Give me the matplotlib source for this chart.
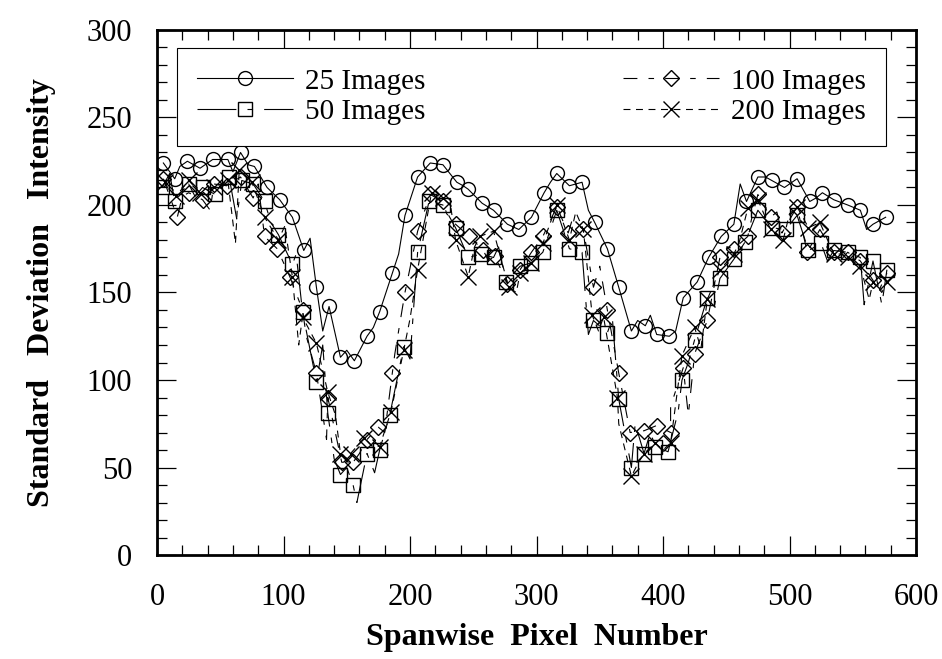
import matplotlib
matplotlib.use("Agg")
import matplotlib.pyplot as plt
from matplotlib.lines import Line2D
from matplotlib.ticker import MultipleLocator

plt.rcParams['font.family'] = ['Liberation Serif', 'DejaVu Serif']
plt.rcParams['lines.scale_dashes'] = False

# marker points (pixel number, std dev)
x25 = [5, 14, 24, 34, 44, 56, 66, 77, 87, 97, 107, 116, 126, 136, 145, 156, 166, 176, 186, 196,
       206, 216, 226, 237, 246, 257, 266, 277, 286, 296, 306, 316, 326, 336, 346, 356, 365, 375, 386, 395,
       405, 416, 427, 436, 446, 456, 466, 475, 486, 496, 506, 516, 526, 535, 546, 556, 566, 576]
y25 = [224, 215, 225, 221, 226, 226, 230, 222, 210, 203, 193, 174, 153, 142, 113, 111, 125, 139, 161, 194,
       216, 224, 223, 213, 209, 201, 197, 189, 186, 193, 207, 218, 211, 213, 190, 175, 153, 128, 131, 126,
       125, 147, 156, 170, 182, 189, 202, 216, 214, 210, 215, 202, 207, 203, 200, 197, 189, 193]

x50 = [4, 14, 25, 36, 46, 57, 67, 76, 85, 96, 107, 115, 126, 135, 145, 155, 166, 176, 184, 195,
       206, 215, 226, 236, 246, 256, 266, 276, 287, 296, 305, 316, 326, 336, 345, 356, 365, 375, 385, 394,
       404, 415, 425, 435, 445, 456, 465, 475, 486, 497, 506, 515, 525, 535, 546, 556, 566, 577]
y50 = [210, 202, 212, 210, 206, 216, 214, 212, 202, 183, 166, 139, 99, 81, 46, 40, 58, 60, 80, 119,
       173, 202, 200, 187, 170, 172, 170, 156, 165, 167, 173, 197, 175, 173, 134, 127, 89, 50, 58, 62,
       59, 100, 123, 147, 158, 169, 179, 197, 187, 186, 194, 174, 178, 174, 173, 170, 168, 163]

x100 = [5, 16, 25, 36, 45, 55, 66, 76, 85, 95, 105, 115, 126, 135, 146, 155, 166, 175, 186, 196,
        206, 216, 226, 236, 247, 258, 267, 277, 287, 296, 305, 316, 325, 337, 345, 356, 365, 374, 385, 395,
        406, 416, 425, 435, 445, 456, 467, 475, 485, 494, 506, 514, 524, 535, 546, 556, 566, 577]
y100 = [215, 193, 207, 203, 212, 211, 216, 204, 182, 175, 159, 140, 104, 90, 53, 53, 66, 73, 104, 150,
        185, 206, 202, 189, 182, 174, 171, 155, 163, 173, 182, 199, 184, 186, 153, 140, 104, 70, 71, 74,
        70, 107, 115, 134, 170, 175, 182, 206, 193, 184, 199, 173, 186, 173, 173, 168, 157, 161]

x200 = [6, 15, 25, 34, 45, 56, 65, 75, 85, 96, 107, 115, 126, 135, 145, 153, 164, 176, 185, 195,
        206, 217, 226, 236, 246, 255, 266, 278, 287, 296, 305, 316, 326, 337, 344, 353, 364, 375, 385, 394,
        406, 415, 425, 435, 445, 456, 467, 475, 485, 495, 506, 515, 524, 535, 546, 556, 566, 577]
y200 = [213, 205, 214, 207, 210, 214, 220, 213, 193, 180, 159, 136, 121, 93, 58, 58, 67, 62, 82, 117,
        163, 207, 204, 180, 159, 182, 185, 153, 161, 167, 178, 200, 180, 186, 137, 136, 90, 45, 58, 64,
        64, 114, 130, 146, 163, 172, 198, 203, 186, 180, 199, 187, 190, 172, 170, 165, 156, 156]

# spikes of the raw traces between markers
sx25 = [18, 60, 72, 121, 131, 150, 171, 191, 242, 311, 341, 380, 390, 410, 461, 481, 521, 561]
sy25 = [222, 219, 223, 181, 128, 117, 130, 172, 211, 213, 197, 134, 137, 128, 212, 216, 204, 186]
sx50 = [10, 30, 63, 90, 110, 131, 140, 150, 158, 172, 200, 270, 341, 360, 378, 390, 412, 420, 440, 530, 559, 573]
sy50 = [218, 205, 192, 190, 172, 120, 55, 50, 30, 47, 112, 176, 126, 135, 75, 70, 82, 110, 140, 168, 143, 143]
sx100 = [20, 42, 80, 118, 134, 160, 180, 188, 229, 262, 328, 350, 406, 420, 451, 470, 490, 540, 570]
sy100 = [205, 197, 212, 125, 66, 58, 70, 115, 195, 168, 191, 165, 85, 80, 176, 192, 196, 168, 150]
sx200 = [10, 62, 101, 112, 141, 149, 169, 200, 232, 251, 284, 331, 349, 365, 380, 400, 430, 460, 500, 541, 563, 573]
sy200 = [208, 178, 188, 120, 80, 55, 63, 135, 200, 176, 150, 196, 128, 75, 52, 60, 118, 178, 195, 172, 146, 150]

labels = ['25 Images', '50 Images', '100 Images', '200 Images']
markers = ['o', 's', 'D', 'x']
msizes = [10, 10, 8, 11]
styles = ['-', (0, (28, 8, 4, 8)), (0, (10, 8, 4, 8)), (0, (5, 4))]


def merge(mx, my, sx, sy):
    pts = sorted([(a, b, True) for a, b in zip(mx, my)] + [(a, b, False) for a, b in zip(sx, sy)])
    return [p[0] for p in pts], [p[1] for p in pts], [p[2] for p in pts]


fig = plt.figure(figsize=(9.42, 6.59), dpi=100)
ax = fig.add_axes([0.1667, 0.1578, 0.8057, 0.7967])

series = [(x25, y25, sx25, sy25), (x50, y50, sx50, sy50),
          (x100, y100, sx100, sy100), (x200, y200, sx200, sy200)]
handles = []
for (mx, my, sx, sy), lab, mk, ms, ls in zip(series, labels, markers, msizes, styles):
    xs, ys, flags = merge(mx, my, sx, sy)
    ax.plot(xs, ys, color='black', lw=0.8, ls=ls, marker=mk, markevery=flags,
            markersize=ms, markerfacecolor='none', markeredgecolor='black', markeredgewidth=1.0)
    handles.append(Line2D([], [], color='black', lw=0.8, ls=ls, marker=mk, markersize=ms,
                          markerfacecolor='none', markeredgecolor='black', markeredgewidth=1.0))

ax.set_xlim(0, 600)
ax.set_ylim(0, 300)
ax.xaxis.set_major_locator(MultipleLocator(100))
ax.xaxis.set_minor_locator(MultipleLocator(20))
ax.yaxis.set_major_locator(MultipleLocator(50))
ax.yaxis.set_minor_locator(MultipleLocator(10))
ax.tick_params(which='both', direction='in', top=True, right=True, width=0.9, labelsize=22)
ax.tick_params(which='major', length=14)
ax.tick_params(which='minor', length=7)
ax.tick_params(axis='x', pad=20)
ax.tick_params(axis='y', pad=18)
for sp in ax.spines.values():
    sp.set_linewidth(2)

ax.set_xlabel('Spanwise  Pixel  Number', fontsize=23, fontweight='bold', labelpad=8)
ax.set_ylabel('Standard   Deviation   Intensity', fontsize=23, fontweight='bold', labelpad=22)

leg = ax.legend(handles, labels, ncol=2, loc='upper left', mode='expand',
                bbox_to_anchor=(0.026, 0.966, 0.935, 0.0), borderaxespad=0,
                fontsize=21, handlelength=3.3, handletextpad=0.4, borderpad=0.7,
                labelspacing=0.15, fancybox=False, framealpha=1, edgecolor='black')
leg.get_frame().set_linewidth(0.8)

fig.savefig('out.png', dpi=100)
